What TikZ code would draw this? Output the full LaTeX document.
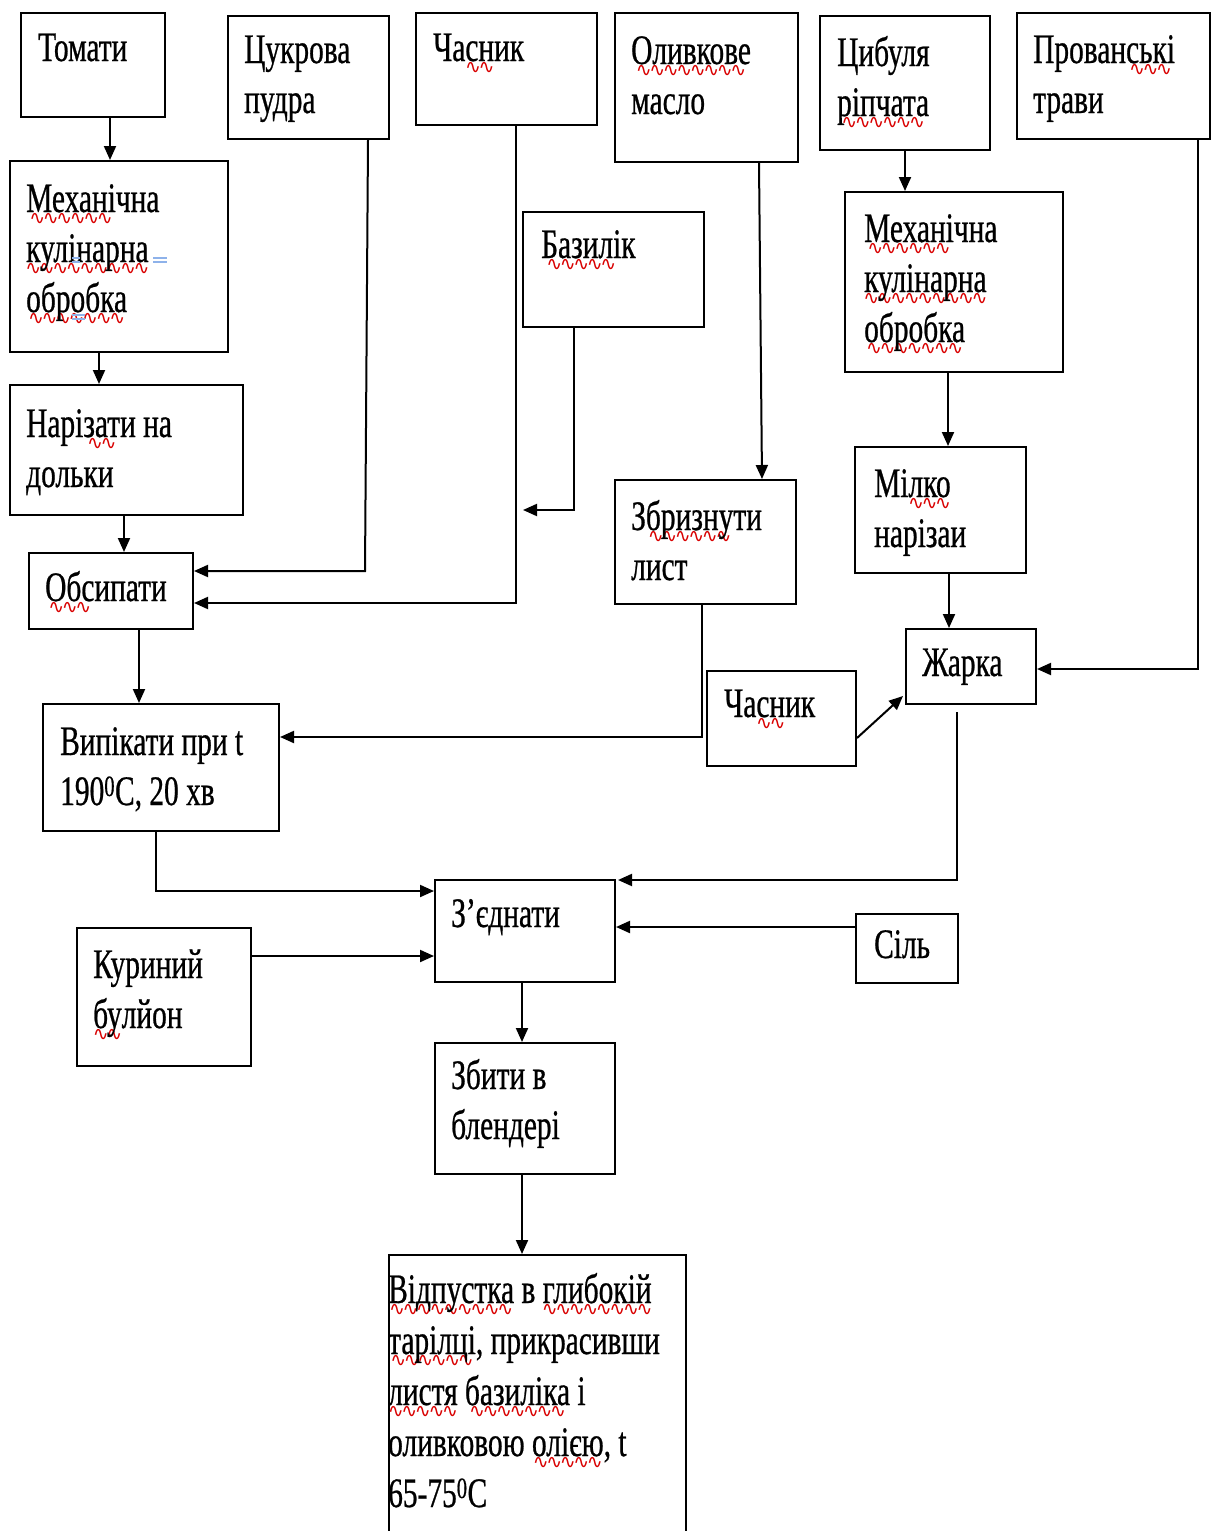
\documentclass[tikz,border=0pt]{standalone}
\usepackage{fontspec}
\usetikzlibrary{calc,arrows.meta}
\newfontfamily\wordfont[FakeStretch=0.7,FakeBold=0.6]{Liberation Serif}
\newfontfamily\wavefont{DejaVu Sans}
\definecolor{markblue}{HTML}{8EB2EA}
% red wavy spell-check mark under a word
\newsavebox\sqbox
\newcommand\sq[1]{\leavevmode\sbox\sqbox{#1}%
  \rlap{\textcolor{red!85!black}{\lower12pt\hbox to \wd\sqbox{\cleaders\hbox{\wavefont\fontsize{19}{19}\selectfont\kern-1.2pt ∿\kern-1.2pt}\hfil}}}%
  \usebox\sqbox}

\tikzset{
  bx/.style={draw, line width=2pt, rectangle, inner sep=0pt, anchor=north west},
  tx/.style={anchor=base west, inner sep=0pt, align=left,
             font=\wordfont\fontsize{42}{50}\selectfont},
  arr/.style={line width=2pt, -{Triangle[length=14pt,width=12pt]}},
  gmark/.style={markblue, line width=1.3pt},
}
% \boxat{name}{x1}{y1}{x2}{y2}
\newcommand\boxat[5]{\node[bx, minimum width={#4-#2}, minimum height={#5-#3}] (#1) at (#2,#3) {};}

\begin{document}
\begin{tikzpicture}[x=1pt, y=-1pt]
\useasboundingbox[fill=white] (0,0) rectangle (1211,1531);

% boxes
\boxat{tom}{20}{12}{164}{116}
\boxat{sugar}{227}{15}{388}{138}
\boxat{garlic}{415}{12}{596}{124}
\boxat{oil}{614}{12}{797}{161}
\boxat{onion}{819}{15}{989}{149}
\boxat{herbs}{1016}{12}{1209}{138}
\boxat{mechA}{9}{160}{227}{351}
\boxat{basil}{522}{211}{703}{326}
\boxat{mechB}{844}{191}{1062}{371}
\boxat{cut}{9}{384}{242}{514}
\boxat{sprinkle}{28}{552}{192}{628}
\boxat{bake}{42}{703}{278}{830}
\boxat{spray}{614}{479}{795}{603}
\boxat{fine}{854}{446}{1025}{572}
\boxat{fry}{905}{628}{1035}{703}
\boxat{garlicB}{706}{670}{855}{765}
\boxat{join}{434}{879}{614}{981}
\boxat{salt}{855}{913}{957}{982}
\boxat{broth}{76}{927}{250}{1065}
\boxat{whisk}{434}{1042}{614}{1173}
\boxat{serve}{388}{1254}{685}{1560}

% texts (each placed at the baseline of its last line)
\node[tx] (tomT) at (38,61) {Томати};
\node[tx] (sugarT) at (244,113) {Цукрова\\пудра};
\node[tx] (garlicT) at (433,61) {Ча\sq{сн}ик};
\node[tx] (oilT) at (631,114) {\sq{Оливкове}\\масло};
\node[tx] (onionT) at (837,116) {Цибуля\\\sq{ріпчата}};
\node[tx] (herbsT) at (1033,113) {Прован\sq{ські}\\трави};
\node[tx] (mechAT) at (26,312) {\sq{Механі}чна\\\sq{кулінарна}\\\sq{обробка}};
\node[tx] (basilT) at (541,258) {\sq{Базилі}к};
\node[tx] (mechBT) at (864,342) {\sq{Механі}чна\\\sq{кулінарна}\\\sq{обробка}};
\node[tx] (cutT) at (26,487) {Нарі\sq{зат}и на\\дольки};
\node[tx] (sprinkleT) at (45,601) {\sq{Обс}ипати};
\node[tx] (bakeT) at (60,805) {Випікати при t\\190\textsuperscript{0}C, 20 хв};
\node[tx] (sprayT) at (631,580) {З\sq{бризну}ти\\лист};
\node[tx] (fineT) at (874,547) {Мі\sq{лко}\\нарізаи};
\node[tx] (fryT) at (922,676) {Жарка};
\node[tx] (garlicBT) at (724,717) {Ча\sq{сн}ик};
\node[tx] (joinT) at (451,927) {З’єднати};
\node[tx] (saltT) at (874,958) {Сіль};
\node[tx] (brothT) at (93,1028) {Куриний\\\sq{бу}лйон};
\node[tx] (whiskT) at (451,1139) {Збити в\\блендері};
\node[tx, font=\wordfont\fontsize{42}{51}\selectfont] (serveT) at (388,1507)
  {\sq{Відпустка} в \sq{глибокій}\\\sq{тарілці}, прикрасивши\\\sq{листя} \sq{базиліка} і\\оливковою \sq{олією}, t\\65-75\textsuperscript{0}C};

% blue double marks in the left processing box
\draw[gmark] (72,258) -- (80,258) (72,262) -- (80,262);
\draw[gmark] (153,258) -- (167,258) (153,262) -- (167,262);
\draw[gmark] (72,315) -- (85,315) (72,319) -- (85,319);

% tomato line
\coordinate (a1) at ($(tom.south west)+(90,0)$);
\draw[arr] (a1) -- (a1 |- mechA.north);
\coordinate (a2) at ($(mechA.south west)+(90,0)$);
\draw[arr] (a2) -- (a2 |- cut.north);
\coordinate (a3) at ($(cut.south west)+(115,0)$);
\draw[arr] (a3) -- (a3 |- sprinkle.north);
\coordinate (a4) at ($(sprinkle.south west)+(111,0)$);
\draw[arr] (a4) -- (a4 |- bake.north);

% sugar and garlic into sprinkling
\coordinate (s1) at ($(sugar.south west)+(141,0)$);
\coordinate (s2) at ($(sprinkle.north east)+(171,19)$);
\draw[arr] (s1) -- (s2) -- (s2 -| sprinkle.east);
\coordinate (g1) at ($(garlic.south west)+(101,0)$);
\coordinate (g2) at ($(sprinkle.north east)+(322,51)$);
\draw[arr] (g1) -- (g2) -- (g2 -| sprinkle.east);

% basil
\coordinate (b1) at ($(basil.south west)+(52,0)$);
\coordinate (b2) at ($(basil.south west)+(1,182)$);
\draw[arr] (b1) |- (b2);

% olive oil onto the sheet, sheet into baking
\coordinate (o1) at ($(oil.south west)+(145,0)$);
\draw[arr] (o1) -- ($(spray.north west)+(148,0)$);
\coordinate (p1) at ($(spray.south west)+(88,0)$);
\draw[arr] (p1) |- ($(bake.north east)+(0,34)$);

% onion line
\coordinate (n1) at ($(onion.south west)+(86,0)$);
\draw[arr] (n1) -- (n1 |- mechB.north);
\coordinate (n2) at ($(mechB.south west)+(104,0)$);
\draw[arr] (n2) -- (n2 |- fine.north);
\coordinate (n3) at ($(fine.south west)+(95,0)$);
\draw[arr] (n3) -- (n3 |- fry.north);
\coordinate (h1) at ($(herbs.south west)+(182,0)$);
\draw[arr] (h1) |- ($(fry.north east)+(0,41)$);
\draw[arr] ($(garlicB.north east)+(0,68)$) -- ($(fry.south west)+(-2,-9)$);

% into joining
\coordinate (f1) at ($(fry.south west)+(52,7)$);
\draw[arr] (f1) |- ($(join.north east)+(2,1)$);
\coordinate (k1) at ($(bake.south west)+(114,0)$);
\draw[arr] (k1) |- ($(join.north west)+(0,12)$);
\coordinate (r1) at ($(broth.north east)+(0,29)$);
\draw[arr] (r1) -- (r1 -| join.west);
\coordinate (t1) at ($(salt.north west)+(0,14)$);
\draw[arr] (t1) -- (t1 -| join.east);

% final steps
\coordinate (j1) at ($(join.south west)+(88,0)$);
\draw[arr] (j1) -- (j1 |- whisk.north);
\coordinate (w1) at ($(whisk.south west)+(88,0)$);
\draw[arr] (w1) -- (w1 |- serve.north);
\end{tikzpicture}
\end{document}
